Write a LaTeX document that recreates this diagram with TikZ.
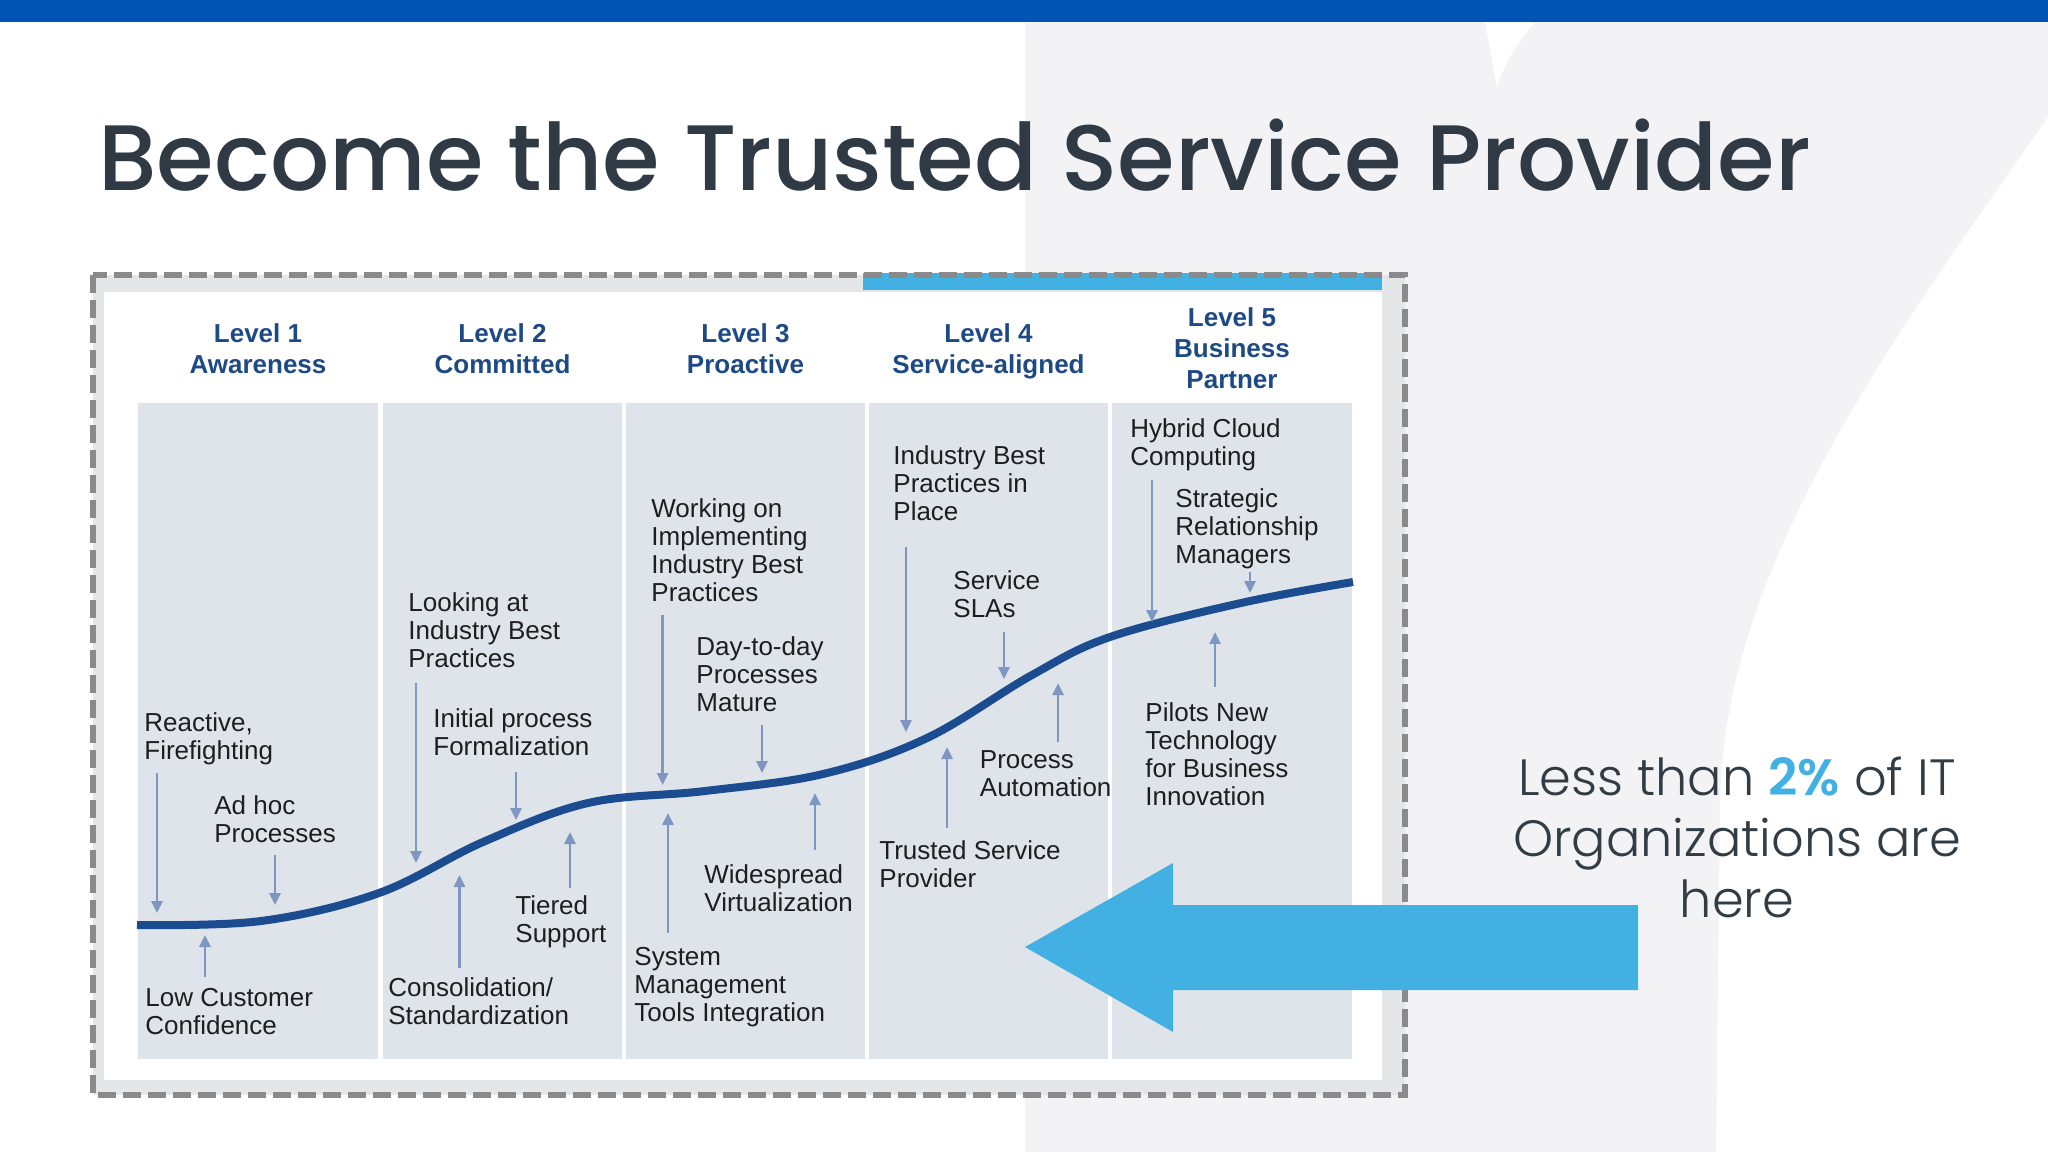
\documentclass[tikz,border=0pt]{standalone}
\usepackage{fontspec}
\setmainfont{Liberation Sans}
\newfontfamily\titlefont{Poppins Medium}
\newfontfamily\lightfont{Poppins Light}
\newfontfamily\boldpop{Poppins SemiBold}
\usetikzlibrary{arrows.meta}
\definecolor{topbar}{HTML}{0054B4}
\definecolor{titlec}{HTML}{2F3A44}
\definecolor{bggray}{HTML}{F3F3F5}
\definecolor{framefill}{HTML}{E5E6E8}
\definecolor{dashc}{HTML}{8A8A8A}
\definecolor{skyblue}{HTML}{42B0E3}
\definecolor{colfill}{HTML}{DFE4EB}
\definecolor{headc}{HTML}{1D4A85}
\definecolor{bodyc}{HTML}{1E1E1E}
\definecolor{arrowc}{HTML}{7E96C2}
\definecolor{curvec}{HTML}{1A4C8F}
\definecolor{rightc}{HTML}{323C45}
\tikzset{
  colbox/.style={fill=colfill, draw=none},
  head/.style={anchor=north, inner sep=0pt, align=center, text=headc, font=\bfseries\fontsize{13}{15.5}\selectfont},
  body/.style={anchor=north west, inner sep=0pt, align=left, text=bodyc, font=\fontsize{13}{14}\selectfont},
  arr/.style={draw=arrowc, line width=1.3pt, -{Triangle[width=5.5pt,length=6pt]}},
}
\begin{document}
\begin{tikzpicture}[x=0.5pt, y=-0.5pt]
% background
\fill[white] (0,0) rectangle (2048,1152);
\useasboundingbox (0,0) rectangle (2048,1152);
\fill[bggray] (1025,22) rectangle (2048,1152);
\fill[white] (1485,22) .. controls (1490,50) and (1494,70) .. (1497,88) .. controls (1505,60) and (1520,40) .. (1535,22) -- cycle;
\fill[white] (2048,117) .. controls (1900,330) and (1725,560) .. (1720,800) -- (1716,1152) -- (2048,1152) -- cycle;
\fill[topbar] (0,0) rectangle (2048,22);
% title
\node[anchor=base west, inner sep=0pt, text=titlec, font=\titlefont\fontsize{46.5}{50}\selectfont] (title) at (98,190) {Become the Trusted Service Provider};
% frame
\fill[framefill] (92.5,275) rectangle (1404.5,1095);
\fill[white] (104,292) rectangle (1382,1080);
\fill[skyblue] (863,273) rectangle (1382,290);
\draw[dashc, line width=3pt, dash pattern=on 9pt off 3.5pt] (92.5,275) rectangle (1404.5,1095);
% columns
\path[colbox] (138,403) rectangle (378,1059);
\path[colbox] (383,403) rectangle (622,1059);
\path[colbox] (626,403) rectangle (865,1059);
\path[colbox] (869,403) rectangle (1108,1059);
\path[colbox] (1112,403) rectangle (1352,1059);
% headers
\node[head] (h1) at (258,323) {Level 1\\Awareness};
\node[head] (h2) at (502.5,323) {Level 2\\Committed};
\node[head] (h3) at (745.5,323) {Level 3\\Proactive};
\node[head] (h4) at (988.5,323) {Level 4\\Service-aligned};
\node[head] (h5) at (1232,307) {Level 5\\Business\\Partner};
% curve
\draw[curvec, line width=4pt] plot[smooth, tension=0.6] coordinates {(137,925) (261,921) (379,893) (483,842) (588,803) (705,791) (823,774) (927,738) (1032,675) (1110,637) (1241,603) (1353,582)};
% column 1
\node[body] (t11) at (144,712) {Reactive,\\Firefighting};
\node[body] (t12) at (214,795) {Ad hoc\\Processes};
\node[body] (t13) at (145,988) {Low Customer\\Confidence};
\draw[arr] (157,773) coordinate (a11s) -- (157,913) coordinate (a11e);
\draw[arr] (275,855) coordinate (a12s) -- (275,905) coordinate (a12e);
\draw[arr] (205,977) coordinate (a13s) -- (205,935) coordinate (a13e);
% column 2
\node[body] (t21) at (408,592) {Looking at\\Industry Best\\Practices};
\node[body] (t22) at (433,708) {Initial process\\Formalization};
\node[body] (t23) at (515,895) {Tiered\\Support};
\node[body] (t24) at (388,977) {Consolidation/\\Standardization};
\draw[arr] (416,683) coordinate (a21s) -- (416,863) coordinate (a21e);
\draw[arr] (516,772) coordinate (a22s) -- (516,820) coordinate (a22e);
\draw[arr] (570,888) coordinate (a23s) -- (570,832) coordinate (a23e);
\draw[arr] (459.5,968) coordinate (a24s) -- (459.5,875) coordinate (a24e);
% column 3
\node[body] (t31) at (651,498) {Working on\\Implementing\\Industry Best\\Practices};
\node[body] (t32) at (696,636) {Day-to-day\\Processes\\Mature};
\node[body] (t33) at (634,947) {System\\Management\\Tools Integration};
\node[body] (t34) at (704,864) {Widespread\\Virtualization};
\draw[arr] (662.6,615) coordinate (a31s) -- (662.6,785) coordinate (a31e);
\draw[arr] (762,725) coordinate (a32s) -- (762,773) coordinate (a32e);
\draw[arr] (668,933) coordinate (a33s) -- (668,813) coordinate (a33e);
\draw[arr] (815,850) coordinate (a34s) -- (815,793) coordinate (a34e);
% column 4
\node[body] (t41) at (893,445) {Industry Best\\Practices in\\Place};
\node[body] (t42) at (953,570) {Service\\SLAs};
\node[body] (t43) at (979.5,750) {Process\\Automation};
\node[body] (t44) at (879,840) {Trusted Service\\Provider};
\draw[arr] (906,547) coordinate (a41s) -- (906,732) coordinate (a41e);
\draw[arr] (1004,632) coordinate (a42s) -- (1004,679) coordinate (a42e);
\draw[arr] (1058,742) coordinate (a43s) -- (1058,683) coordinate (a43e);
\draw[arr] (947,828) coordinate (a44s) -- (947,747) coordinate (a44e);
% column 5
\node[body] (t51) at (1130,418) {Hybrid Cloud\\Computing};
\node[body] (t52) at (1175,488) {Strategic\\Relationship\\Managers};
\node[body] (t53) at (1145,702) {Pilots New\\Technology\\for Business\\Innovation};
\draw[arr] (1152,480) coordinate (a51s) -- (1152,622) coordinate (a51e);
\draw[arr] (1250,572) coordinate (a52s) -- (1250,593) coordinate (a52e);
\draw[arr] (1215,687) coordinate (a53s) -- (1215,632) coordinate (a53e);
% big arrow
\fill[skyblue] (1025,947) -- (1173,863) -- (1173,905) -- (1638,905) -- (1638,990) -- (1173,990) -- (1173,1032) -- cycle;
% right text
\node[anchor=north, inner sep=0pt, align=center, text=rightc, font=\lightfont\fontsize{25.5}{30.5}\selectfont] (note) at (1737,756) {Less than {\boldpop\color{skyblue}2\%} of IT\\Organizations are\\here};
\end{tikzpicture}
\end{document}
